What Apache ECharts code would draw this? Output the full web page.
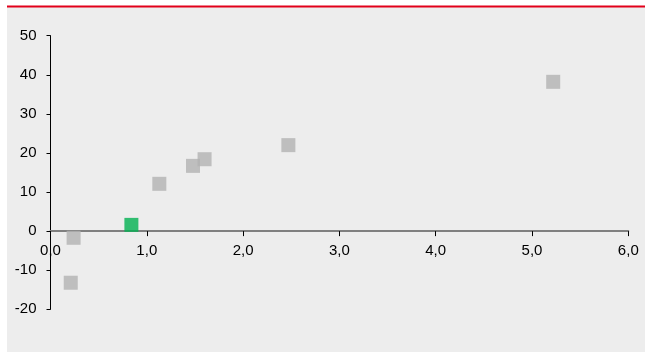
<!DOCTYPE html>
<html>
<head>
<meta charset="utf-8">
<script src="https://cdn.jsdelivr.net/npm/echarts@6/dist/echarts.min.js"></script>
<style>
  html, body { margin: 0; padding: 0; background: #ffffff; }
  #chart { width: 645px; height: 352px; }
</style>
</head>
<body>
<div id="chart"></div>
<script>
// Peer group points (x, y)
const peerX = [0.21, 0.24, 1.13, 1.48, 1.60, 2.47, 5.22];
const peerY = [-13.2, -1.7, 12.1, 16.7, 18.4, 22.0, 38.2];
// Highlighted company
const focusX = [0.84];
const focusY = [1.6];

const xTicks = { min: 0, max: 6, step: 1 };
const yTicks = { min: -20, max: 50, step: 10 };

const toPairs = (xs, ys) => xs.map((x, i) => [x, ys[i]]);

const GRID = { left: 50.5, right: 16.7, top: 35.7, bottom: 42.7 };
const PLOT_H = 352 - GRID.top - GRID.bottom;
// distance from the bottom of the plot up to the zero line
const zeroLift = PLOT_H * (0 - yTicks.min) / (yTicks.max - yTicks.min);

const FONT = 'Liberation Sans, Arial, sans-serif';

const chart = echarts.init(document.getElementById('chart'), null, { renderer: 'canvas' });

chart.setOption({
  animation: false,
  backgroundColor: '#ffffff',
  graphic: [
    { type: 'rect', left: 7, top: 7, z: -10, shape: { width: 645, height: 352 }, style: { fill: '#ededed' } },
    { type: 'rect', left: 7, top: 5.5, z: -5, shape: { width: 645, height: 2 }, style: { fill: '#e2001a' } }
  ],
  grid: GRID,
  xAxis: {
    type: 'value',
    min: xTicks.min, max: xTicks.max, interval: xTicks.step,
    offset: -zeroLift,
    splitLine: { show: false },
    axisLine: { onZero: false, lineStyle: { color: '#808080', width: 2 } },
    axisTick: { show: true, length: 5, lineStyle: { color: '#000000', width: 1 } },
    axisLabel: {
      color: '#000000', fontFamily: FONT, fontSize: 15, margin: 12,
      formatter: v => v.toFixed(1).replace('.', ',')
    }
  },
  yAxis: {
    type: 'value',
    min: yTicks.min, max: yTicks.max, interval: yTicks.step,
    splitLine: { show: false },
    axisLine: { show: true, onZero: false, lineStyle: { color: '#000000', width: 1 } },
    axisTick: { show: true, length: 4, lineStyle: { color: '#000000', width: 1 } },
    axisLabel: { color: '#000000', fontFamily: FONT, fontSize: 15, margin: 14 }
  },
  series: [
    {
      type: 'scatter', symbol: 'rect', symbolSize: 14,
      itemStyle: { color: '#b2b2b2' },
      data: toPairs(peerX, peerY)
    },
    {
      type: 'scatter', symbol: 'rect', symbolSize: 14,
      itemStyle: { color: '#00b050' },
      data: toPairs(focusX, focusY)
    }
  ]
});
</script>
</body>
</html>
